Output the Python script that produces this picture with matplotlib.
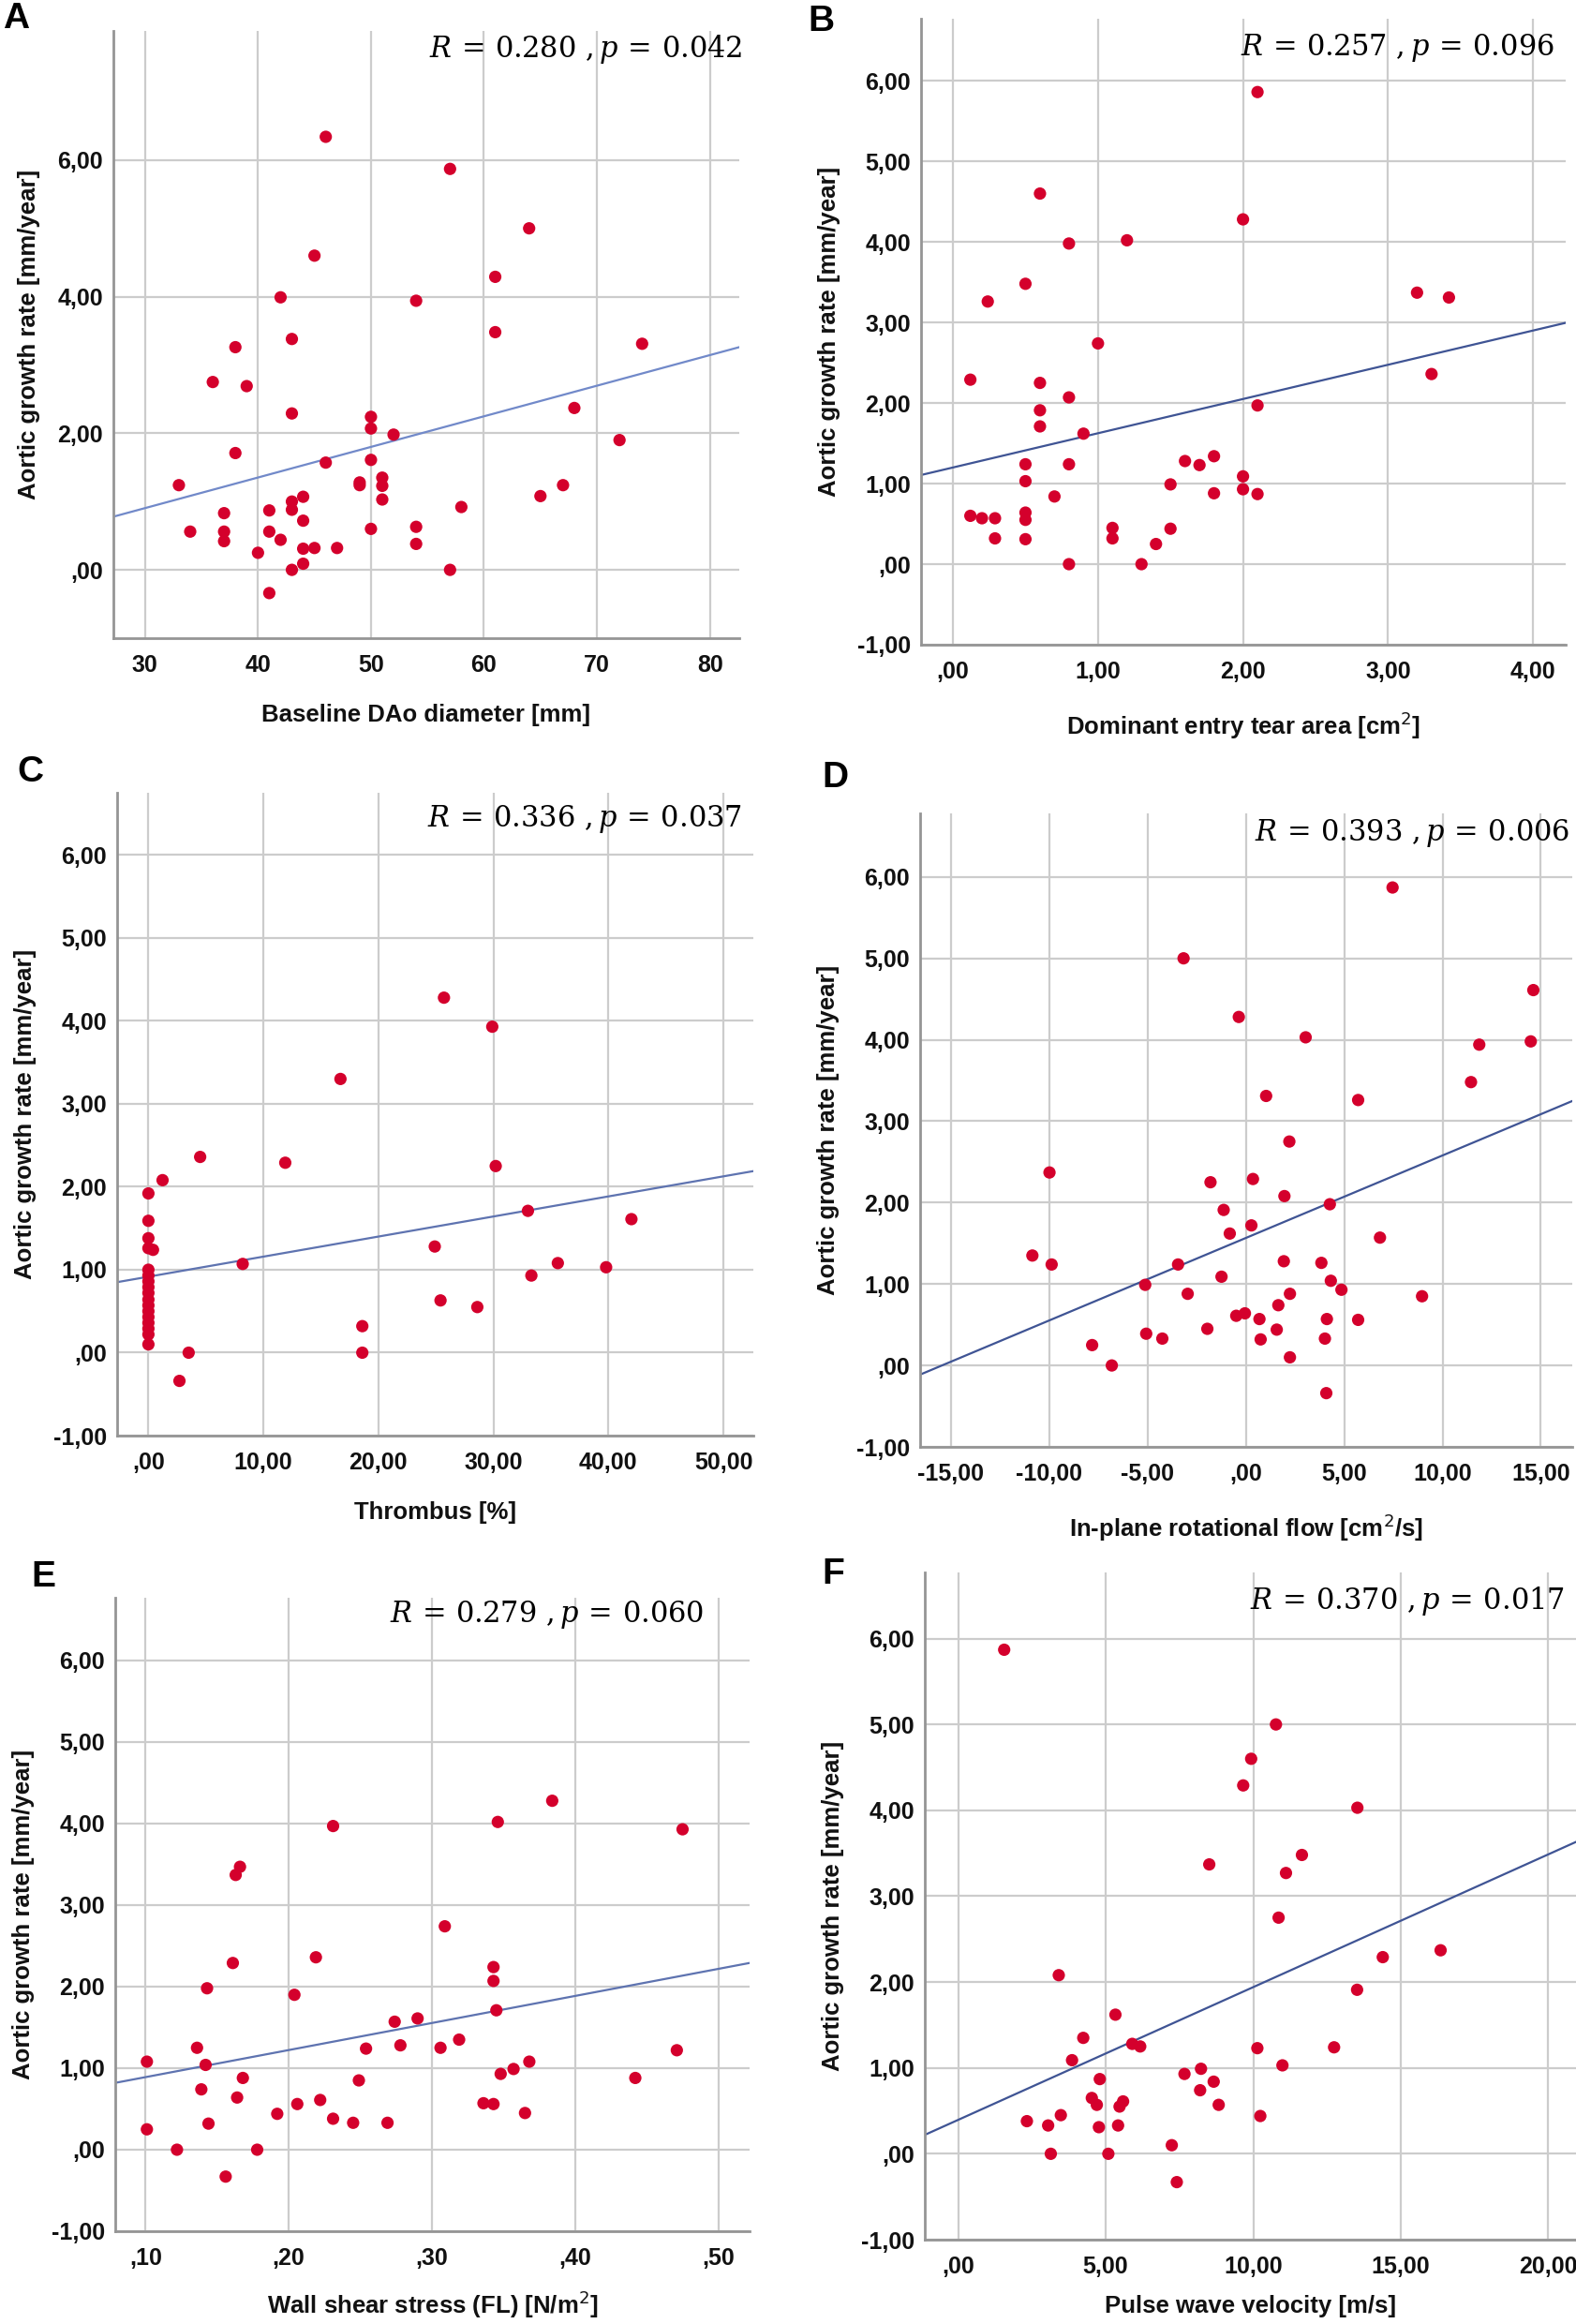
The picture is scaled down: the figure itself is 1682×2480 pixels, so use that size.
import numpy as np
import matplotlib.pyplot as plt

W, H = 1683, 2480
plt.rcParams['font.family'] = ['Liberation Sans', 'DejaVu Sans']

# A: Baseline DAo diameter
a_x = [33, 34, 36, 37, 37, 37, 38, 38, 39, 40, 41, 41, 41, 42, 42, 43, 43, 43, 43, 43,
       44, 44, 44, 44, 45, 45, 46, 46, 47, 49, 49, 50, 50, 50, 50, 51, 51, 51, 52, 54,
       54, 54, 57, 57, 58, 61, 61, 64, 65, 67, 68, 72, 74]
a_y = [1.24, 0.56, 2.75, 0.83, 0.56, 0.42, 3.26, 1.71, 2.69, 0.25, 0.87, 0.56, -0.34, 3.99, 0.44,
       3.38, 2.29, 1.00, 0.88, 0.00, 1.07, 0.72, 0.31, 0.09, 4.60, 0.32, 6.34, 1.57, 0.32, 1.28,
       1.24, 2.24, 2.07, 1.61, 0.60, 1.35, 1.23, 1.03, 1.98, 3.94, 0.63, 0.38, 5.87, 0.00, 0.92,
       4.29, 3.48, 5.00, 1.08, 1.24, 2.37, 1.90, 3.31]
a_fit = (-0.44, 0.0448)

# B: Dominant entry tear area
b_x = [0.12, 0.12, 0.20, 0.24, 0.29, 0.29, 0.50, 0.50, 0.50, 0.50, 0.50, 0.50, 0.60, 0.60, 0.60,
       0.60, 0.70, 0.80, 0.80, 0.80, 0.80, 0.90, 1.00, 1.10, 1.10, 1.20, 1.30, 1.40, 1.50, 1.50,
       1.60, 1.70, 1.80, 1.80, 2.00, 2.00, 2.00, 2.10, 2.10, 2.10, 3.20, 3.30, 3.42]
b_y = [2.29, 0.60, 0.57, 3.26, 0.57, 0.32, 3.48, 1.24, 1.03, 0.64, 0.55, 0.31, 4.60, 2.25, 1.91,
       1.71, 0.84, 3.98, 2.07, 1.24, 0.00, 1.62, 2.74, 0.45, 0.32, 4.02, 0.00, 0.25, 0.99, 0.44,
       1.28, 1.23, 1.34, 0.88, 4.28, 1.09, 0.93, 5.86, 1.97, 0.87, 3.37, 2.36, 3.31]
b_fit = (1.20, 0.425)

# C: Thrombus
c_x = [0, 0, 0, 0, 0.4, 0, 0, 0, 0, 0, 0, 0, 0, 0, 0, 0, 0, 0,
       1.23, 2.7, 3.5, 4.5, 8.2, 11.9, 16.7, 18.6, 18.6, 24.9, 25.4, 25.7, 28.6, 29.9, 30.2,
       33.0, 33.3, 35.6, 39.8, 42.0]
c_y = [1.92, 1.59, 1.38, 1.26, 1.24, 1.00, 0.93, 0.86, 0.79, 0.72, 0.64, 0.57, 0.50, 0.43, 0.36,
       0.29, 0.22, 0.10,
       2.08, -0.34, 0.00, 2.36, 1.07, 2.29, 3.30, 0.00, 0.32, 1.28, 0.63, 4.28, 0.55, 3.93, 2.25,
       1.71, 0.93, 1.08, 1.03, 1.61]
c_fit = (0.916, 0.0242)

# D: In-plane rotational flow
d_x = [7.46, -3.17, -0.36, 3.04, 14.62, 14.49, 11.87, 11.45, 1.03, 5.71, 2.21, -9.99, -1.80, 0.36,
       1.96, 4.27, -1.13, -0.82, 0.28, 6.82, -10.86, -9.88, -3.45, 1.93, 3.84, -1.24, 4.32, -5.12,
       4.86, -2.96, 2.24, 8.96, 1.65, -0.49, -0.05, 0.69, 4.12, 5.71, -1.96, 1.57, -5.07, -4.25,
       0.75, 4.02, -7.82, 2.24, -6.82, 4.09]
d_y = [5.87, 5.00, 4.28, 4.03, 4.61, 3.98, 3.94, 3.48, 3.31, 3.26, 2.75, 2.37, 2.25, 2.29, 2.08,
       1.98, 1.91, 1.62, 1.72, 1.57, 1.35, 1.24, 1.24, 1.28, 1.26, 1.09, 1.04, 0.99, 0.93, 0.88,
       0.88, 0.85, 0.74, 0.61, 0.64, 0.57, 0.57, 0.56, 0.45, 0.44, 0.39, 0.33, 0.32, 0.33, 0.25,
       0.10, 0.00, -0.34]
d_fit = (1.566, 0.1013)

# E: Wall shear stress (FL)
e_x = [0.101, 0.101, 0.122, 0.136, 0.139, 0.142, 0.143, 0.144, 0.156, 0.161, 0.163, 0.166, 0.164,
       0.168, 0.178, 0.192, 0.204, 0.206, 0.219, 0.222, 0.231, 0.231, 0.245, 0.249, 0.254, 0.269,
       0.274, 0.278, 0.290, 0.306, 0.309, 0.319, 0.336, 0.343, 0.343, 0.345, 0.343, 0.346, 0.348,
       0.357, 0.365, 0.368, 0.384, 0.442, 0.471, 0.475]
e_y = [1.08, 0.25, 0.00, 1.25, 0.74, 1.04, 1.98, 0.32, -0.33, 2.29, 3.37, 3.47, 0.64, 0.88, 0.00,
       0.44, 1.90, 0.56, 2.36, 0.61, 3.97, 0.38, 0.33, 0.85, 1.24, 0.33, 1.57, 1.28, 1.61, 1.25,
       2.74, 1.35, 0.57, 2.24, 2.07, 1.71, 0.56, 4.02, 0.93, 0.99, 0.45, 1.08, 4.28, 0.88, 1.22,
       3.93]
e_fit = (0.558, 3.32)

# F: Pulse wave velocity
f_x = [1.56, 2.33, 3.05, 3.14, 3.41, 3.48, 3.86, 4.24, 4.53, 4.70, 4.80, 4.77, 5.09, 5.33, 5.42,
       5.47, 5.59, 5.90, 6.17, 7.24, 7.41, 7.67, 8.20, 8.23, 8.51, 8.66, 8.83, 9.66, 9.93, 10.14,
       10.24, 10.77, 10.86, 10.99, 11.11, 11.65, 12.74, 13.53, 13.52, 14.39, 16.35]
f_y = [5.87, 0.38, 0.33, 0.00, 2.08, 0.45, 1.09, 1.35, 0.65, 0.57, 0.87, 0.31, 0.00, 1.62, 0.33,
       0.55, 0.61, 1.28, 1.25, 0.10, -0.33, 0.93, 0.74, 0.99, 3.37, 0.84, 0.57, 4.29, 4.60, 1.23,
       0.44, 5.00, 2.75, 1.03, 3.27, 3.48, 1.24, 4.03, 1.91, 2.29, 2.37]
f_fit = (0.395, 0.1546)

y_label = 'Aortic growth rate [mm/year]'


def fmt(v, dec):
    s = f'{v:.{dec}f}'.replace('.', ',')
    if s.startswith('0,'):
        s = s[1:]
    elif s.startswith('-0,'):
        s = '-' + s[2:]
    return s


def stat_text(r, p):
    return r'$R\,=\,' + r + r'\ ,p\,=\,' + p + '$'


fig = plt.figure(figsize=(W / 100, H / 100), dpi=100)


def panel(box, x, y, fit, xlim, xticks, xdec, ylim, yticks, xlabel, stat, stat_xy,
          letter, letter_xy, line_color, xpad=21):
    l, r, t, b = box
    ax = fig.add_axes([l / W, 1 - b / H, (r - l) / W, (b - t) / H])
    ax.set_xlim(xlim)
    ax.set_ylim(ylim)
    ax.set_xticks(xticks)
    ax.set_yticks(yticks)
    ax.set_xticklabels([fmt(v, xdec) for v in xticks])
    ax.set_yticklabels([fmt(v, 2) for v in yticks])
    ax.grid(True, color='#cccccc', linewidth=1.6, zorder=0)
    ax.set_axisbelow(True)
    for s in ['top', 'right']:
        ax.spines[s].set_visible(False)
    for s in ['left', 'bottom']:
        ax.spines[s].set_color('#959595')
        ax.spines[s].set_linewidth(2.0)
    ax.tick_params(length=0, labelsize=18, colors='#111111')
    for lab in ax.get_xticklabels() + ax.get_yticklabels():
        lab.set_fontweight('bold')
    ax.tick_params(axis='x', pad=12)
    ax.tick_params(axis='y', pad=8)
    xs = np.array(xlim)
    ax.plot(xs, fit[0] + fit[1] * xs, color=line_color, linewidth=1.6, zorder=2)
    ax.scatter(x, y, s=90, color='#d4002c', edgecolors='none', zorder=3)
    ax.set_xlabel(xlabel, fontsize=18.5, fontweight='bold', labelpad=xpad, color='#111111')
    ax.set_ylabel(y_label, fontsize=18.5, fontweight='bold', labelpad=13, color='#111111')
    fig.text(stat_xy[0] / W, 1 - stat_xy[1] / H, stat_text(*stat), fontsize=22, ha='right',
             va='center', math_fontfamily='dejavuserif')
    fig.text(letter_xy[0] / W, 1 - letter_xy[1] / H, letter, fontsize=28, fontweight='bold',
             ha='left', va='center')
    return ax


panel((121, 789, 33, 681), a_x, a_y, a_fit, (27.2, 82.6), [30, 40, 50, 60, 70, 80], 0,
      (-1.0, 7.89), [0, 2, 4, 6], 'Baseline DAo diameter [mm]',
      ('0.280', '0.042'), (792, 52), 'A', (3, 20), '#7189c9')
panel((983, 1671, 20, 688), b_x, b_y, b_fit, (-0.22, 4.225), [0, 1, 2, 3, 4], 2,
      (-1.0, 6.77), [-1, 0, 1, 2, 3, 4, 5, 6], r'Dominant entry tear area [cm$^2$]',
      ('0.257', '0.096'), (1659, 51), 'B', (862, 23), '#3f5494')
panel((125, 804, 846, 1532), c_x, c_y, c_fit, (-2.72, 52.6), [0, 10, 20, 30, 40, 50], 2,
      (-1.0, 6.75), [-1, 0, 1, 2, 3, 4, 5, 6], 'Thrombus [%]',
      ('0.336', '0.037'), (792, 874), 'C', (18, 824), '#5e73b0')
panel((982, 1678, 868, 1544), d_x, d_y, d_fit, (-16.57, 16.6), [-15, -10, -5, 0, 5, 10, 15], 2,
      (-1.0, 6.78), [-1, 0, 1, 2, 3, 4, 5, 6], r'In-plane rotational flow [cm$^2$/s]',
      ('0.393', '0.006'), (1675, 889), 'D', (877, 830), '#3f5494')
panel((123, 800, 1705, 2381), e_x, e_y, e_fit, (0.0789, 0.5218), [0.1, 0.2, 0.3, 0.4, 0.5], 2,
      (-1.0, 6.77), [-1, 0, 1, 2, 3, 4, 5, 6], r'Wall shear stress (FL) [N/m$^2$]',
      ('0.279', '0.060'), (751, 1723), 'E', (33, 1683), '#5e73b0', xpad=15)
panel((987, 1683, 1678, 2390), f_x, f_y, f_fit, (-1.13, 20.97), [0, 5, 10, 15, 20], 2,
      (-1.0, 6.77), [-1, 0, 1, 2, 3, 4, 5, 6], 'Pulse wave velocity [m/s]',
      ('0.370', '0.017'), (1670, 1708), 'F', (877, 1680), '#3f5494', xpad=13)

fig.savefig('out.png', dpi=100, facecolor='white')
